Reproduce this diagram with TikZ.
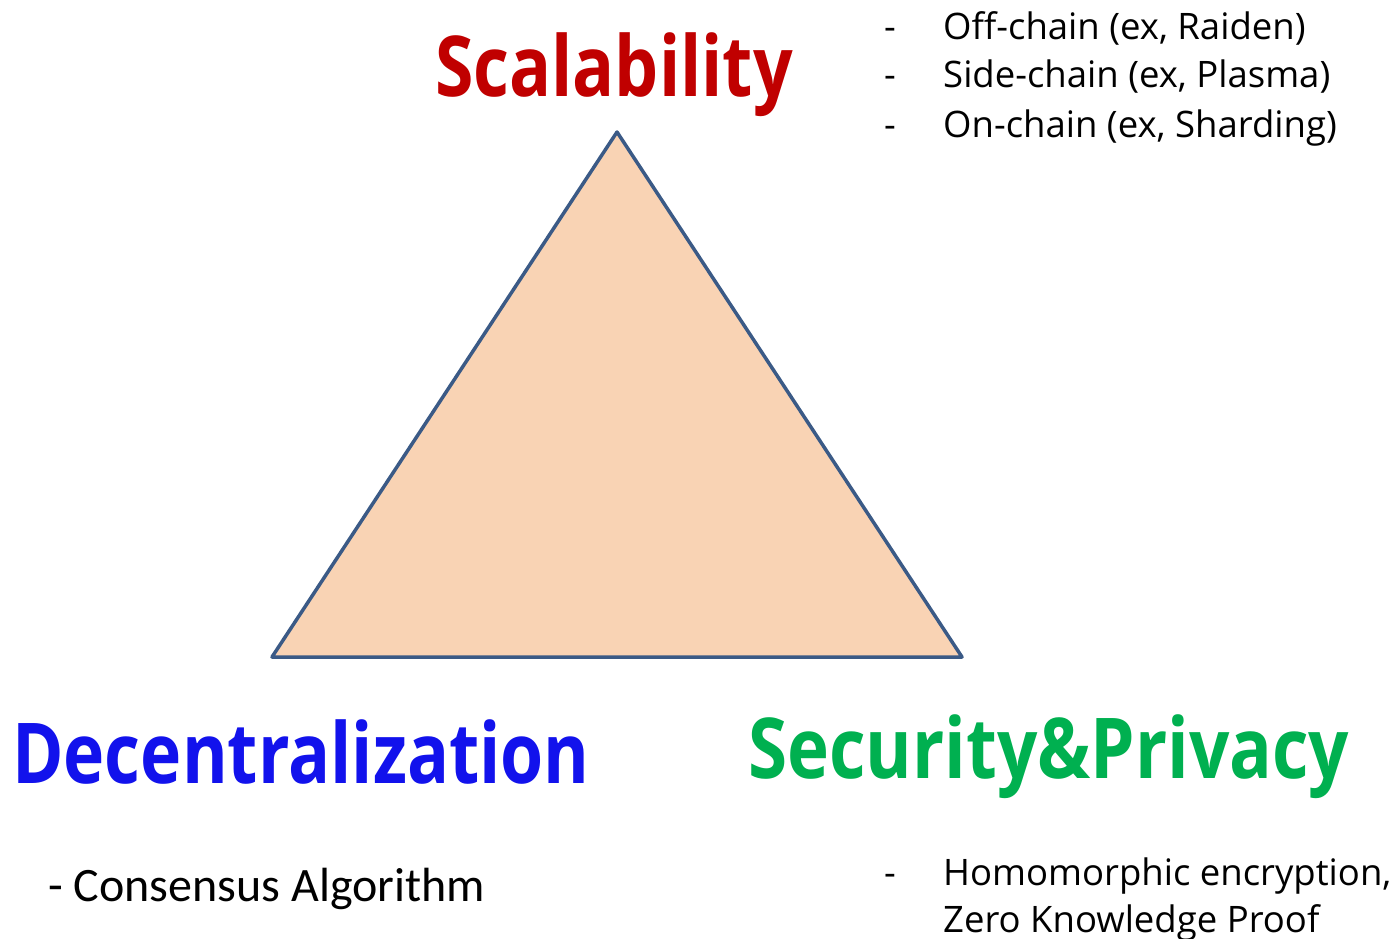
\documentclass[tikz,border=0pt]{standalone}
\usepackage{fontspec}
\setmainfont{Open Sans}
\newfontfamily\calfont{Carlito}
\definecolor{tri}{HTML}{F9D3B4}
\definecolor{triedge}{HTML}{3B5A86}
\definecolor{scred}{HTML}{C00000}
\definecolor{decblue}{HTML}{1212EC}
\definecolor{secgreen}{HTML}{00B050}
\newcommand{\narrowtitle}[2][0.83]{\scalebox{#1}[1]{#2}}
\begin{document}
\begin{tikzpicture}[x=1pt,y=-1pt,
  title/.style={inner sep=0pt,font=\fontsize{84}{90}\selectfont\bfseries},
  body/.style={inner sep=0pt,anchor=base west,font=\fontsize{36.5}{40}\selectfont}]
\useasboundingbox (0,0) rectangle (1394,939);
\coordinate (top) at (617,132);
\coordinate (bl) at (272,657);
\coordinate (br) at (962,657);
\filldraw[fill=tri,draw=triedge,line width=3.5pt,line join=round] (top) -- (br) -- (bl) -- cycle;
\node[title,anchor=base,text=scred] (scal) at (614,97) {\narrowtitle{Scalability}};
\node[title,anchor=base west,text=decblue] (dec) at (12,783) {\narrowtitle{Decentralization}};
\node[title,anchor=base west,text=secgreen] (sec) at (748,778) {\narrowtitle[0.845]{Security\&Privacy}};
\node[body] (d1) at (884,40) {-};
\node[body] (l1) at (943,40) {Off-chain (ex, Raiden)};
\node[body] (d2) at (884,88) {-};
\node[body] (l2) at (943,88) {Side-chain (ex, Plasma)};
\node[body] (d3) at (884,137) {-};
\node[body] (l3) at (943,137) {On-chain (ex, Sharding)};
\node[inner sep=0pt,anchor=base west,font=\calfont\fontsize{48}{52}\selectfont] (cons) at (48,901) {- Consensus Algorithm};
\node[body] (d4) at (884,885) {-};
\node[body] (h1) at (943,885) {Homomorphic encryption,};
\node[body] (h2) at (943,932) {Zero Knowledge Proof};
\end{tikzpicture}
\end{document}
